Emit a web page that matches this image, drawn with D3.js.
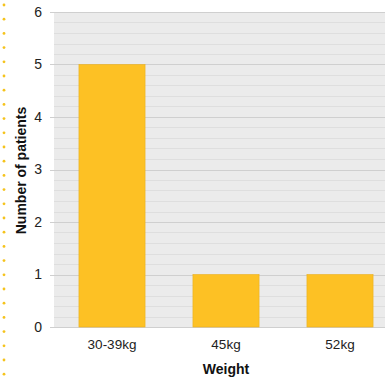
<!DOCTYPE html>
<html><head><meta charset="utf-8">
<script src="https://cdn.jsdelivr.net/npm/d3@7"></script>
<style>body{margin:0;background:#fff;}svg{display:block;font-family:"Liberation Sans",Arial,sans-serif;}</style>
</head><body>
<svg id="c" width="385" height="377"></svg>
<script>
const categories = ["30-39kg", "45kg", "52kg"];
const values = [5, 1, 1];
const yTicks = [0, 1, 2, 3, 4, 5, 6];
const xTitle = "Weight";
const yTitle = "Number of patients";

const svg = d3.select("#c");
const W = 385, H = 377;
const m = {left: 54, top: 12, bottom: 50};
const plotRight = 397;
const x = d3.scaleBand().domain(categories).range([m.left + 1, plotRight]).paddingInner(0.42).paddingOuter(0.21);
const y = d3.scaleLinear().domain([0, 6]).range([H - m.bottom, m.top]);

// left dotted decoration
const dots = d3.range(0, 27);
svg.append("g").selectAll("circle").data(dots).join("circle")
  .attr("cx", 4).attr("cy", d => 5 + d * 14.2).attr("r", 1.4).attr("fill", "#f5c31c");

// background
svg.append("rect").attr("x", m.left).attr("y", y(6)).attr("width", plotRight - m.left).attr("height", y(0) - y(6)).attr("fill", "#ebebeb");

// minor grid
const minor = d3.range(0, 30).map(i => i * 0.2).filter(v => Math.abs(v - Math.round(v)) > 1e-6);
svg.append("g").selectAll("line").data(minor).join("line")
  .attr("x1", m.left).attr("x2", plotRight)
  .attr("y1", d => Math.round(y(d)) + 0.5).attr("y2", d => Math.round(y(d)) + 0.5)
  .attr("stroke", "#dedede").attr("stroke-width", 1);

// major grid
svg.append("g").selectAll("line").data(yTicks).join("line")
  .attr("x1", m.left - 4).attr("x2", plotRight)
  .attr("y1", d => Math.round(y(d)) + 0.5).attr("y2", d => Math.round(y(d)) + 0.5)
  .attr("stroke", "#cfcfcf").attr("stroke-width", 1);

// bars
svg.append("g").selectAll("rect").data(values).join("rect")
  .attr("x", (d, i) => x(categories[i]))
  .attr("width", x.bandwidth())
  .attr("y", d => y(d))
  .attr("height", d => y(0) - y(d))
  .attr("fill", "#fdc124").attr("stroke", "#eab020").attr("stroke-width", 0.6);

// y axis labels
const yAxis = d3.axisLeft(y).tickValues(yTicks).tickSize(0).tickPadding(0).tickFormat(d3.format("d"));
const ya = svg.append("g").attr("transform", `translate(${m.left - 12},0)`).call(yAxis);
ya.select(".domain").remove();
ya.selectAll("text").attr("font-size", 14).attr("fill", "#222").attr("font-family", "Liberation Sans, Arial, sans-serif");

// x axis labels
const xAxis = d3.axisBottom(x).tickSize(0).tickPadding(0);
const xa = svg.append("g").attr("transform", `translate(0,${y(0) + 12})`).call(xAxis);
xa.select(".domain").remove();
xa.selectAll("text").attr("font-size", 13.5).attr("fill", "#222").attr("font-family", "Liberation Sans, Arial, sans-serif");

// titles
svg.append("text").attr("x", x(categories[1]) + x.bandwidth() / 2).attr("y", 374)
  .attr("text-anchor", "middle").attr("font-size", 14).attr("font-weight", "bold").attr("fill", "#111").text(xTitle);
svg.append("text").attr("transform", `translate(26,${(y(0) + y(6)) / 2 + 1}) rotate(-90)`)
  .attr("text-anchor", "middle").attr("font-size", 14).attr("font-weight", "bold").attr("fill", "#111").text(yTitle);
</script>
</body></html>
